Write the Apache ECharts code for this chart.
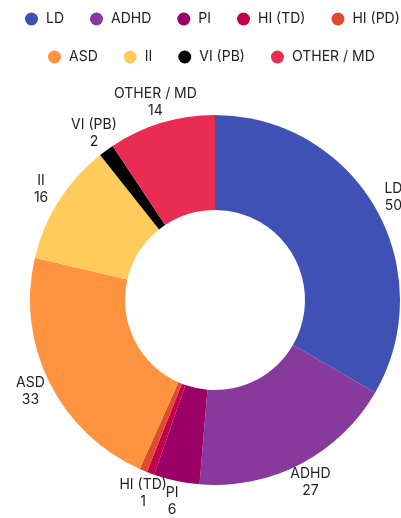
<!DOCTYPE html>
<html>
<head>
<meta charset="utf-8">
<script src="https://cdn.jsdelivr.net/npm/echarts@6/dist/echarts.min.js"></script>
<style>
  html, body { margin: 0; padding: 0; background: #fff; }
  #chart { width: 401px; height: 518px; }
</style>
</head>
<body>
<div id="chart"></div>
<script>
// categories and counts
var names = ['LD', 'ADHD', 'PI', 'HI (TD)', 'HI (PD)', 'ASD', 'II', 'VI (PB)', 'OTHER / MD'];
var counts = [50, 27, 6, 1, 1, 33, 16, 2, 14];
var colors = ['#3f51b5', '#873a9b', '#9b0066', '#c2004e', '#e04b2e', '#ff9340', '#ffcb5b', '#000000', '#e92c52'];
var legendRow1 = ['LD', 'ADHD', 'PI', 'HI (TD)', 'HI (PD)'];
var legendRow2 = ['ASD', 'II', 'VI (PB)', 'OTHER / MD'];
var hiddenLabels = ['HI (PD)'];

var fontFamily = 'Inter, "Noto Sans", sans-serif';

var pieData = names.map(function (n, i) {
  return { name: n, value: counts[i] };
});

// second, invisible ring only carries the labels
var labelData = names.map(function (n, i) {
  return {
    name: n,
    value: counts[i],
    label: { show: hiddenLabels.indexOf(n) < 0 }
  };
});

var legendBase = {
  padding: 0,
  icon: 'circle',
  itemWidth: 19,
  itemHeight: 13,
  itemGap: 26,
  textStyle: { fontFamily: fontFamily, fontSize: 14, color: '#222' }
};

var chart = echarts.init(document.getElementById('chart'));
chart.setOption({
  animation: false,
  color: colors,
  legend: [
    Object.assign({}, legendBase, { left: 25, top: 12, data: legendRow1 }),
    Object.assign({}, legendBase, { left: 48, top: 50, data: legendRow2 })
  ],
  series: [
    {
      type: 'pie',
      center: [215, 300],
      radius: [90, 185],
      startAngle: 90,
      label: { show: false },
      labelLine: { show: false },
      data: pieData
    },
    {
      type: 'pie',
      silent: true,
      avoidLabelOverlap: false,
      center: [215, 300],
      radius: [196, 210],
      startAngle: 90,
      itemStyle: { color: 'transparent' },
      label: {
        position: 'inside',
        formatter: '{b}\n{c}',
        fontFamily: fontFamily,
        fontSize: 14,
        lineHeight: 17,
        color: '#222',
        align: 'center'
      },
      labelLayout: { hideOverlap: false },
      labelLine: { show: false },
      data: labelData
    }
  ]
});
</script>
</body>
</html>
